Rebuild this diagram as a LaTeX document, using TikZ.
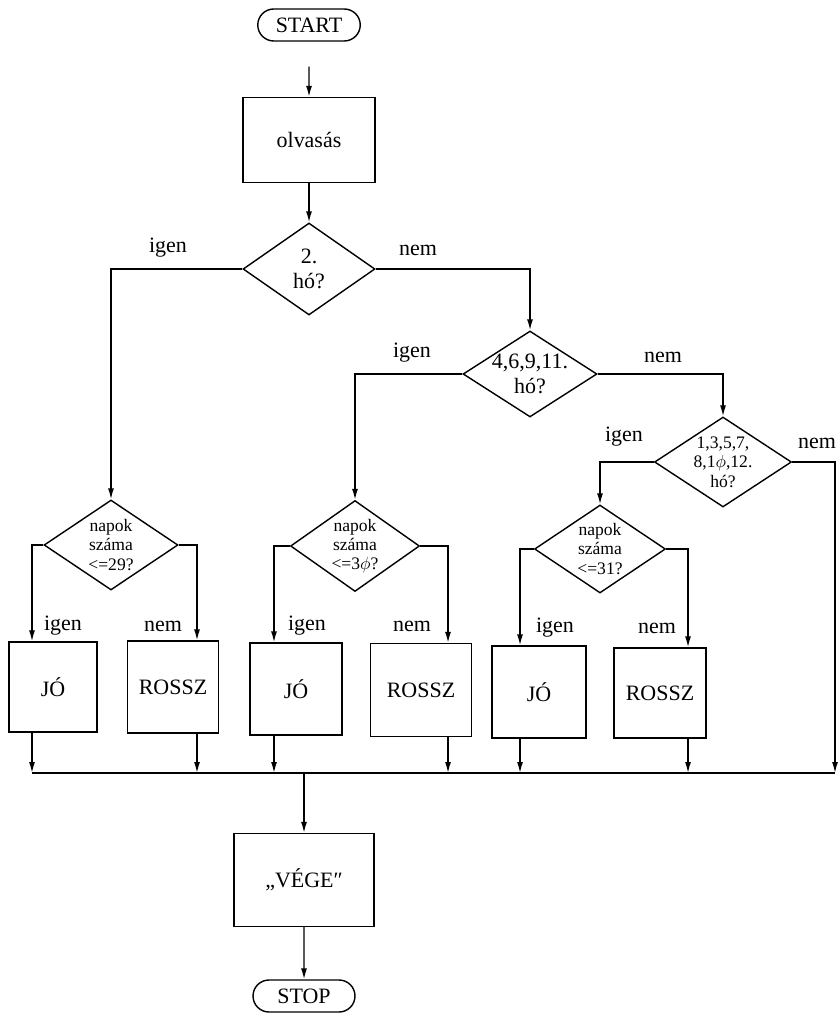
\documentclass[tikz,border=0pt]{standalone}
\usepackage{fontspec}
\setmainfont{Liberation Serif}
\usetikzlibrary{arrows.meta,positioning,shapes.geometric,shapes.misc}

\begin{document}
\begin{tikzpicture}[x=0.02cm, y=-0.02cm, >={Latex[length=2.2mm,width=1.2mm]}, line width=0.8pt,
  every node/.style={font=\fontsize{12.5}{14}\selectfont},
  term/.style={draw, rounded rectangle, minimum width=2.05cm, minimum height=0.64cm, inner sep=0pt},
  box/.style={draw, inner sep=0pt, minimum height=1.82cm},
  cond/.style={draw, diamond, inner sep=0pt},
  small/.style={font=\fontsize{10}{11}\selectfont},
  lbl/.style={inner sep=1pt}]
  \useasboundingbox (0,0) rectangle (839,1016);

  \node[term] (start) at (309,25) {START};
  \node[box, minimum width=2.64cm, minimum height=1.7cm] (olvas) at (309,140) {olvasás};
  \node[cond, minimum width=2.64cm, minimum height=1.84cm,
    label={[align=center]center:{2.\\hó?}}] (feb) at (309,269) {};
  \node[cond, minimum width=2.68cm, minimum height=1.72cm,
    label={[align=center]center:{4,6,9,11.\\hó?}}] (ho30) at (530,374) {};
  \node[cond, minimum width=2.74cm, minimum height=1.8cm,
    label={[small, align=center]center:{1,3,5,7,\\8,1$\phi$,12.\\hó?}}] (ho31) at (723,462) {};

  % napok szama
  \node[cond, minimum width=2.68cm, minimum height=1.8cm,
    label={[small, align=center]center:{napok\\száma\\<=29?}}] (nap29) at (111,545) {};
  \node[cond, minimum width=2.58cm, minimum height=1.82cm,
    label={[small, align=center]center:{napok\\száma\\<=3$\phi$?}}] (nap30) at (355,546) {};
  \node[cond, minimum width=2.62cm, minimum height=1.76cm,
    label={[small, align=center]center:{napok\\száma\\<=31?}}] (nap31) at (600,549) {};

  \node[box, minimum width=1.76cm, minimum height=1.8cm] (jo29) at (53,687) {JÓ};
  \node[box, minimum width=1.82cm, minimum height=1.84cm] (rossz29) at (173,687) {ROSSZ};
  \node[box, minimum width=1.84cm, minimum height=1.84cm] (jo30) at (296,689) {JÓ};
  \node[box, minimum width=2.02cm, minimum height=1.86cm] (rossz30) at (421,690) {ROSSZ};
  \node[box, minimum width=1.88cm, minimum height=1.84cm] (jo31) at (539,692) {JÓ};
  \node[box, minimum width=1.84cm, minimum height=1.8cm] (rossz31) at (660,693) {ROSSZ};

  \node[box, minimum width=2.8cm, minimum height=1.86cm] (vege) at (304,880) {„VÉGE″};
  \node[term, minimum width=2.04cm] (stop) at (304,996) {STOP};

  % gyujto vonal
  \coordinate (s1) at (32,773);
  \coordinate (s2) at (197,773);
  \coordinate (s3) at (274,773);
  \coordinate (s4) at (448,773);
  \coordinate (s5) at (520,773);
  \coordinate (s6) at (688,773);
  \coordinate (s7) at (835,773);
  \coordinate (sm) at (304,773);

  \draw[->, shorten <=0.5cm] (start) -- (olvas);
  \draw[->] (olvas) -- (feb);
  \draw[->] (feb.west) -| (nap29.north);
  \draw[->] (feb.east) -| (ho30.north);
  \draw[->] (ho30.west) -| (nap30.north);
  \draw[->] (ho30.east) -| (ho31.north);
  \draw[->] (ho31.west) -| (nap31.north);
  \draw[->] (ho31.east) -| (s7);

  \draw[->] (nap29.west) -| (jo29.north -| s1);
  \draw[->] (nap29.east) -| (rossz29.north -| s2);
  \draw[->] (nap30.west) -| (jo30.north -| s3);
  \draw[->] (nap30.east) -| (rossz30.north -| s4);
  \draw[->] (nap31.west) -| (jo31.north -| s5);
  \draw[->] (nap31.east) -| (rossz31.north -| s6);

  \draw[->] (jo29.south -| s1) -- (s1);
  \draw[->] (rossz29.south -| s2) -- (s2);
  \draw[->] (jo30.south -| s3) -- (s3);
  \draw[->] (rossz30.south -| s4) -- (s4);
  \draw[->] (jo31.south -| s5) -- (s5);
  \draw[->] (rossz31.south -| s6) -- (s6);
  \draw (s1) -- (s7);
  \draw[->] (sm) -- (vege);
  \draw[->] (vege) -- (stop);

  \node[lbl] (igen1) at (168,248) {igen};
  \node[lbl] (nem1) at (418,250) {nem};
  \node[lbl] (igen2) at (412,353) {igen};
  \node[lbl] (nem2) at (663,357) {nem};
  \node[lbl] (igen3) at (624,437) {igen};
  \node[lbl] (nem3) at (817,443) {nem};
  \node[lbl] (igen4) at (63,626) {igen};
  \node[lbl] (nem4) at (163,626) {nem};
  \node[lbl] (igen5) at (307,626) {igen};
  \node[lbl] (nem5) at (412,626) {nem};
  \node[lbl] (igen6) at (555,628) {igen};
  \node[lbl] (nem6) at (657,628) {nem};
\end{tikzpicture}
\end{document}
